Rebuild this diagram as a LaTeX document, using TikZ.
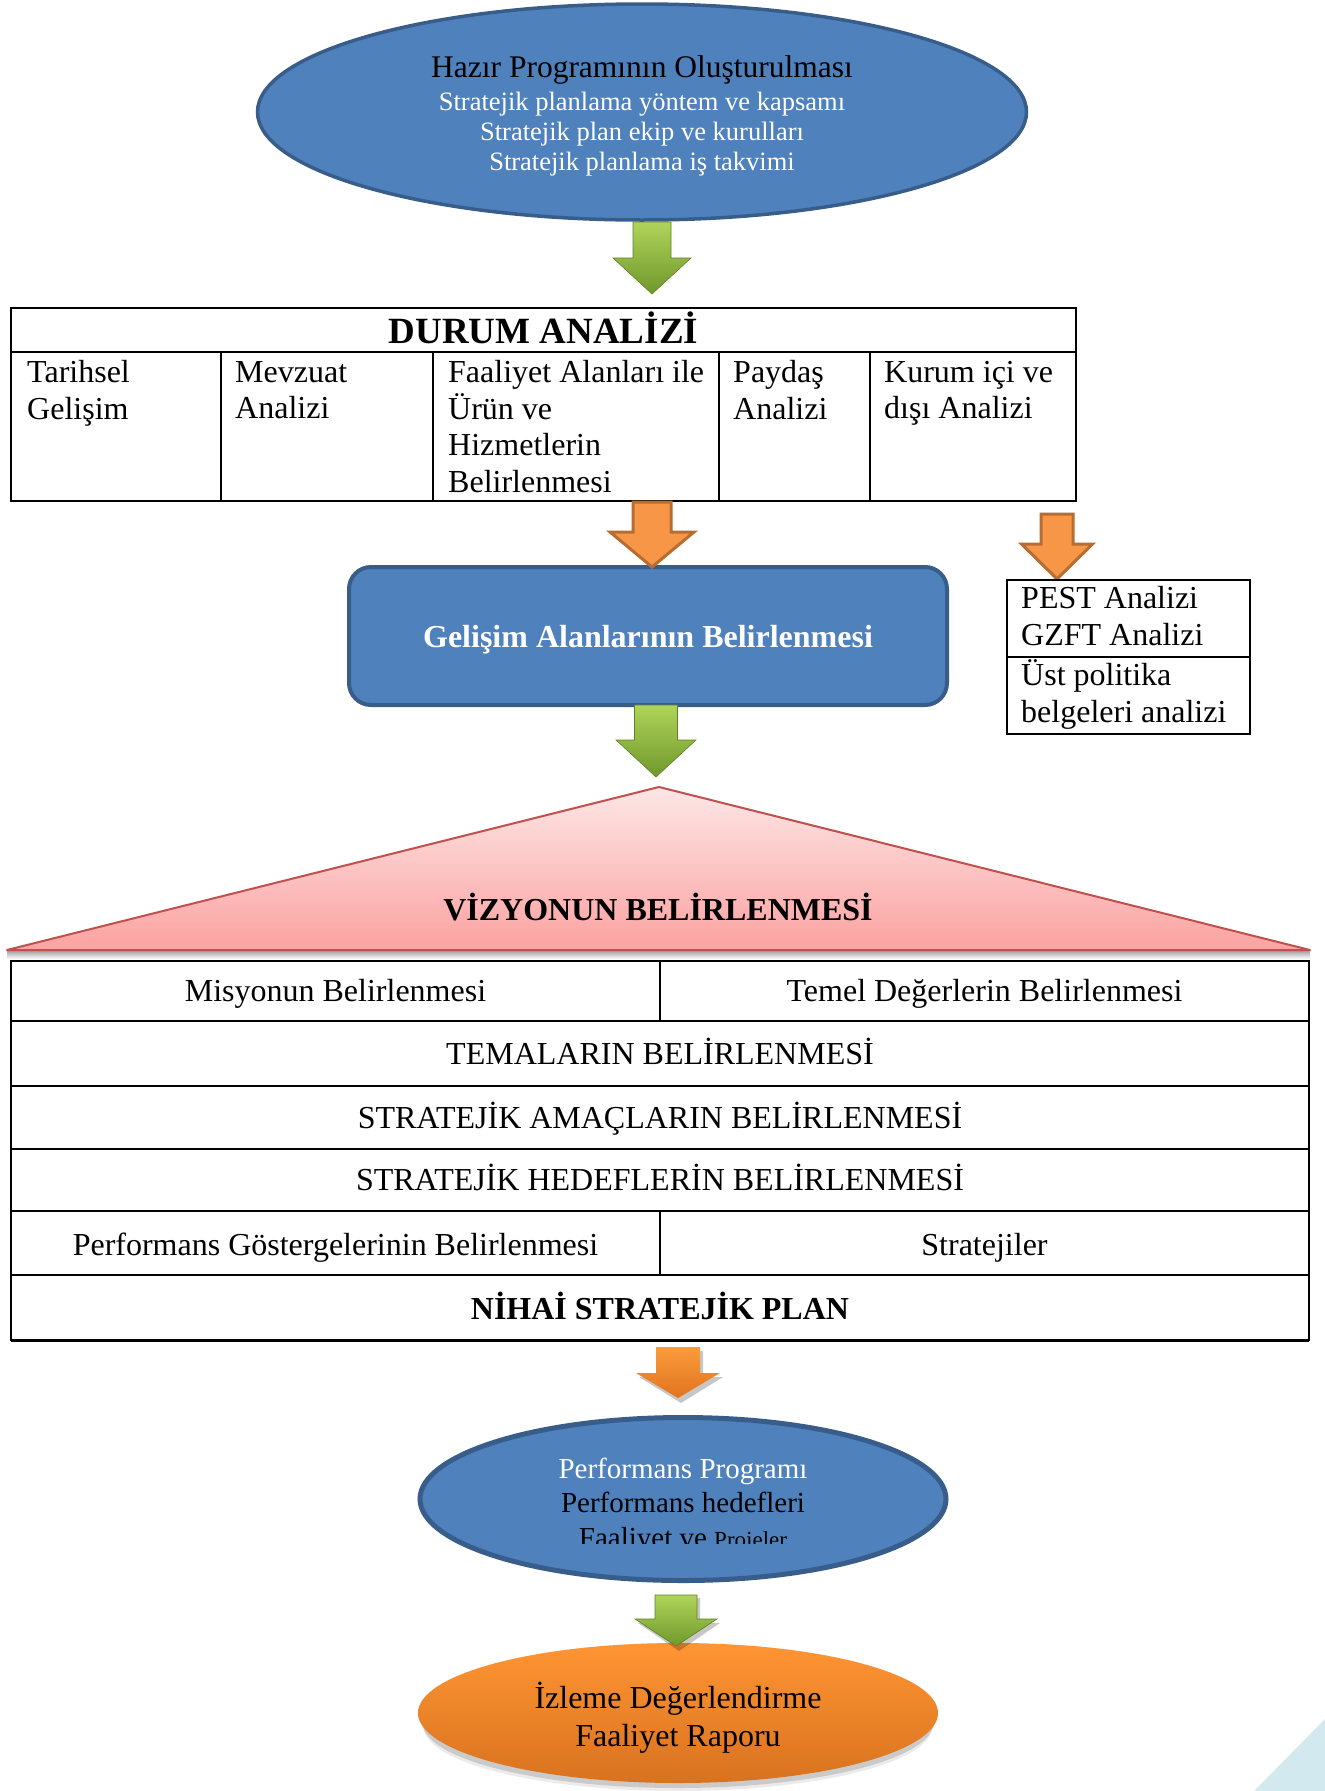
\documentclass[tikz,border=0pt]{standalone}
\usepackage{fontspec}
\setmainfont{Liberation Serif}
\usetikzlibrary{shapes.geometric}
\definecolor{bfill}{HTML}{4F81BD}
\definecolor{bdraw}{HTML}{385D8A}
\definecolor{ofill}{HTML}{F79646}
\definecolor{odraw}{HTML}{B66D31}
\definecolor{otop}{HTML}{FA9C3C}
\definecolor{obot}{HTML}{E2731E}
\definecolor{eotop}{HTML}{FF9533}
\definecolor{eobot}{HTML}{D8721F}
\definecolor{gtop}{HTML}{B0D45A}
\definecolor{gbot}{HTML}{6F982C}
\definecolor{ptop}{HTML}{FDE6E6}
\definecolor{pbot}{HTML}{FBA2A1}
\definecolor{pdraw}{HTML}{C0504D}
\definecolor{wedgec}{HTML}{D2E9F0}
\newcommand{\blockarr}[7]{%
  \path[#1] ({#2-#6},#3) -- ({#2+#6},#3) -- ({#2+#6},#4) -- ({#2+#7},#4) -- (#2,#5) -- ({#2-#7},#4) -- ({#2-#6},#4) -- cycle;}
\newcommand{\firststrut}{\rule{0pt}{22pt}}
\begin{document}
\begin{tikzpicture}[x=1pt,y=-1pt,
  every node/.style={inner sep=0pt},
  fbig/.style={font=\fontsize{32}{36.7}\selectfont},
  cell/.style={fbig, anchor=north west, align=left},
  rowtxt/.style={fbig, anchor=base},
  tline/.style={draw=black, line width=2pt},
  garrow/.style={top color=gtop, bottom color=gbot, draw=gbot!85!black, line width=0.6pt},
  oarrow/.style={fill=ofill, draw=odraw, line width=3pt, line join=miter},
  ogarrow/.style={top color=otop, bottom color=obot},
  shadowarr/.style={fill=black, opacity=0.22},
  blueell/.style={ellipse, fill=bfill, draw=bdraw},
]
\useasboundingbox (0,0) rectangle (1325,1791);

% ---------- top ellipse ----------
\node[blueell, line width=3.5pt, minimum width=769pt, minimum height=216pt] (hazir) at (642,112) {};
\node[anchor=base, font=\fontsize{31.5}{34}\selectfont] (hazirT) at (642,77) {Hazır Programının Oluşturulması};
\node[anchor=base, text=white, font=\fontsize{26.5}{30}\selectfont] (hazirA) at (642,110) {Stratejik planlama yöntem ve kapsamı};
\node[anchor=base, text=white, font=\fontsize{26.5}{30}\selectfont] (hazirB) at (642,140) {Stratejik plan ekip ve kurulları};
\node[anchor=base, text=white, font=\fontsize{26.5}{30}\selectfont] (hazirC) at (642,170) {Stratejik planlama iş takvimi};

\blockarr{garrow}{652}{222}{258}{294}{19}{39}

% ---------- DURUM ANALIZI table ----------
\draw[tline] (11,308) rectangle (1076,501);
\draw[tline] (11,352) -- (1076,352);
\foreach \xx in {221,433,719,870} \draw[tline] (\xx,352) -- (\xx,501);
\node[anchor=base, font=\bfseries\fontsize{37}{40}\selectfont] (durumT) at (543.5,343) {DURUM ANALİZİ};
\node[cell] (tarih) at (27,360) {\firststrut Tarihsel\\Gelişim};
\node[cell] (mevzuat) at (235,360) {\firststrut Mevzuat\\Analizi};
\node[cell] (faaliyet) at (448,360) {\firststrut Faaliyet Alanları ile\\Ürün ve\\Hizmetlerin\\Belirlenmesi};
\node[cell] (paydas) at (733,360) {\firststrut Paydaş\\Analizi};
\node[cell] (kurum) at (884,360) {\firststrut Kurum içi ve\\dışı Analizi};

% ---------- Gelisim box ----------
\node[draw=bdraw, fill=bfill, line width=4pt, rounded corners=22pt, minimum width=598pt, minimum height=138pt] (gelisim) at (648,636) {};
\node[anchor=base, text=white, font=\bfseries\fontsize{32}{36}\selectfont] (gelisimT) at (648,647) {Gelişim Alanlarının Belirlenmesi};

\blockarr{oarrow}{652}{502}{532}{567}{19}{42}
\blockarr{oarrow}{1057}{514}{544}{579}{16}{35.5}

% ---------- PEST box ----------
\draw[tline] (1007,580) rectangle (1250,734);
\draw[tline] (1007,657) -- (1250,657);
\node[fbig, anchor=base west] (pest) at (1021,608) {PEST Analizi};
\node[fbig, anchor=base west] (gzft) at (1021,645) {GZFT Analizi};
\node[fbig, anchor=base west] (ust) at (1021,685) {Üst politika};
\node[fbig, anchor=base west] (belge) at (1021,722) {belgeleri analizi};

\blockarr{garrow}{656}{705}{740}{777}{21.5}{40}

% ---------- Vizyon triangle ----------
\shade[top color=black!40, bottom color=white] (7,950) rectangle (1310,959);
\shade[top color=ptop, bottom color=pbot] (659,787) -- (1310,950) -- (7,950) -- cycle;
\draw[pdraw, line width=2pt, line join=round] (659,787) -- (1310,950) -- (7,950) -- cycle;
\node[anchor=base, font=\bfseries\fontsize{32}{36}\selectfont] (vizyon) at (658,920) {VİZYONUN BELİRLENMESİ};

% ---------- lower table ----------
\draw[tline] (11,961) rectangle (1309,1340);
\foreach \yy in {1021,1086,1149,1211,1275} \draw[tline] (11,\yy) -- (1309,\yy);
\draw[tline] (660,961) -- (660,1021);
\draw[tline] (660,1211) -- (660,1275);
\draw[line width=3pt] (11,1340) -- (1309,1340);
\node[rowtxt] (misyon) at (335.5,1001) {Misyonun Belirlenmesi};
\node[rowtxt] (temel) at (984.5,1001) {Temel Değerlerin Belirlenmesi};
\node[rowtxt] (temalar) at (660,1064) {TEMALARIN BELİRLENMESİ};
\node[rowtxt] (amac) at (660,1128) {STRATEJİK AMAÇLARIN BELİRLENMESİ};
\node[rowtxt] (hedef) at (660,1190) {STRATEJİK HEDEFLERİN BELİRLENMESİ};
\node[rowtxt] (gosterge) at (335.5,1255) {Performans Göstergelerinin Belirlenmesi};
\node[rowtxt] (strat) at (984.5,1255) {Stratejiler};
\node[rowtxt, font=\bfseries\fontsize{32}{36}\selectfont] (nihai) at (660,1319) {NİHAİ STRATEJİK PLAN};

\blockarr{shadowarr}{681}{1351}{1377}{1403}{22}{42}
\blockarr{ogarrow}{678}{1347}{1373}{1398}{22}{42}

% ---------- Performans ellipse ----------
\node[blueell, line width=5pt, minimum width=526pt, minimum height=163pt] (perfprog) at (683,1499) {};
\node[anchor=base, text=white, font=\fontsize{29}{33}\selectfont] (pp1) at (683,1478) {Performans Programı};
\node[anchor=base, font=\fontsize{29}{33}\selectfont] (pp2) at (683,1512) {Performans hedefleri};
\begin{scope}
\clip (420,1400) rectangle (950,1543);
\node[anchor=base, font=\fontsize{29}{33}\selectfont] (pp3) at (683,1547) {Faaliyet ve {\fontsize{23}{26}\selectfont Projeler}};
\end{scope}

% ---------- Izleme ellipse ----------
\fill[black, opacity=0.08] (678,1727) ellipse [x radius=254pt, y radius=64pt];
\fill[black, opacity=0.14] (678,1722) ellipse [x radius=256pt, y radius=66pt];
\node[ellipse, top color=eotop, bottom color=eobot, minimum width=520pt, minimum height=140pt] (izleme) at (678,1713) {};
\node[anchor=base, fbig] (iz1) at (678,1708) {İzleme Değerlendirme};
\node[anchor=base, fbig] (iz2) at (678,1746) {Faaliyet Raporu};

\blockarr{shadowarr}{679}{1598}{1623}{1651}{21}{41}
\blockarr{garrow}{676}{1595}{1619}{1646}{21}{41}

% ---------- corner wedge ----------
\fill[wedgec] (1254,1791) -- (1325,1719) -- (1325,1791) -- cycle;
\end{tikzpicture}
\end{document}
